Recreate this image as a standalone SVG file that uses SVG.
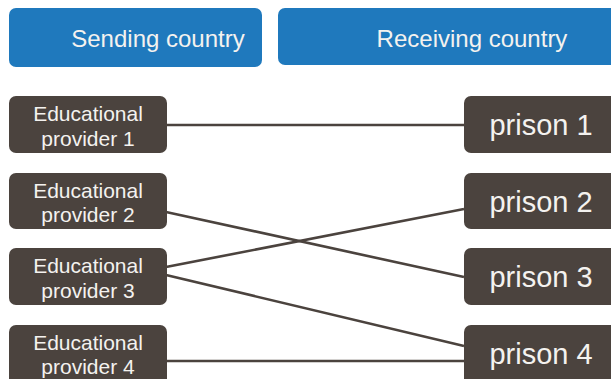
<svg xmlns="http://www.w3.org/2000/svg" width="611" height="379" viewBox="0 0 611 379">
<style>
.hdr{fill:#1f79bd}
.box{fill:#4b433e}
.t{font-family:"Liberation Sans",Arial,sans-serif;fill:#f4f2ef;text-anchor:middle}
.h{font-size:24px}
.e{font-size:21px}
.p{font-size:29px}
.c{stroke:#4b433e;stroke-width:2.6;fill:none}
</style>
<rect width="611" height="379" fill="#ffffff"/>
<g id="connectors">
<line class="c" x1="167" y1="125" x2="464" y2="125"/>
<line class="c" x1="166" y1="212" x2="464" y2="277"/>
<line class="c" x1="166" y1="267" x2="464" y2="209"/>
<line class="c" x1="166" y1="275" x2="464" y2="346"/>
<line class="c" x1="167" y1="361" x2="464" y2="361"/>
</g>
<g id="header-sending">
<rect class="hdr" x="9" y="8" width="253" height="59" rx="7"/>
<text class="t h" x="158" y="47">Sending country</text>
</g>
<g id="header-receiving">
<rect class="hdr" x="278" y="8" width="345" height="57" rx="7"/>
<text class="t h" x="472" y="47">Receiving country</text>
</g>
<g id="provider1">
<rect class="box" x="9" y="96" width="158" height="57" rx="7"/>
<text class="t e" x="88" y="121">Educational</text>
<text class="t e" x="88" y="146">provider 1</text>
</g>
<g id="provider2">
<rect class="box" x="9" y="173" width="158" height="56" rx="7"/>
<text class="t e" x="88" y="198">Educational</text>
<text class="t e" x="88" y="222">provider 2</text>
</g>
<g id="provider3">
<rect class="box" x="9" y="248" width="158" height="57" rx="7"/>
<text class="t e" x="88" y="273">Educational</text>
<text class="t e" x="88" y="298">provider 3</text>
</g>
<g id="provider4">
<rect class="box" x="9" y="325" width="158" height="64" rx="7"/>
<text class="t e" x="88" y="350">Educational</text>
<text class="t e" x="88" y="374">provider 4</text>
</g>
<g id="prison1">
<rect class="box" x="464" y="96" width="160" height="57" rx="7"/>
<text class="t p" x="541" y="135">prison 1</text>
</g>
<g id="prison2">
<rect class="box" x="464" y="173" width="160" height="56" rx="7"/>
<text class="t p" x="541" y="212">prison 2</text>
</g>
<g id="prison3">
<rect class="box" x="464" y="248" width="160" height="57" rx="7"/>
<text class="t p" x="541" y="287">prison 3</text>
</g>
<g id="prison4">
<rect class="box" x="464" y="325" width="160" height="64" rx="7"/>
<text class="t p" x="541" y="364">prison 4</text>
</g>
</svg>
